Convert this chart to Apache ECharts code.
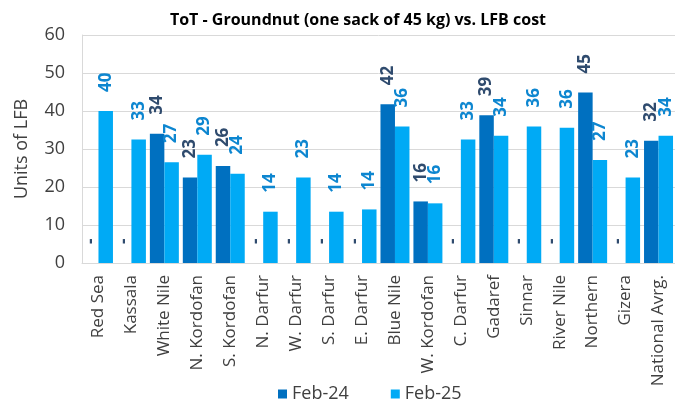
<!DOCTYPE html>
<html>
<head>
    <meta charset="utf-8" />
    <title>ToT - Groundnut</title>
    <script src="https://cdn.jsdelivr.net/npm/echarts@6/dist/echarts.min.js"></script>
    <style>
        html, body { margin: 0; padding: 0; background: #fff; }
        #chart { width: 675px; height: 408px; }
    </style>
</head>
<body>
    <div id="chart"></div>
    <script type="text/javascript">
        // states (x axis)
        var states = ['Red Sea', 'Kassala', 'White Nile', 'N. Kordofan', 'S. Kordofan', 'N. Darfur', 'W. Darfur',
            'S. Darfur', 'E. Darfur', 'Blue Nile', 'W. Kordofan', 'C. Darfur', 'Gadaref', 'Sinnar',
            'River Nile', 'Northern', 'Gizera', 'National Avrg.'];
        // units of LFB, 0 = no data (shown as "-")
        var feb24 = [0, 0, 34, 22.5, 25.5, 0, 0, 0, 0, 41.8, 16.2, 0, 38.9, 0, 0, 44.9, 0, 32.2];
        var feb25 = [40, 32.5, 26.5, 28.5, 23.5, 13.5, 22.5, 13.5, 14.1, 35.9, 15.7, 32.5, 33.5, 35.9, 35.6, 27.1, 22.5, 33.5];
        var yTicks = [0, 10, 20, 30, 40, 50, 60];

        var font = 'Open Sans';

        function labelOpt(color) {
            return {
                show: true,
                position: 'top',
                rotate: 90,
                align: 'left',
                verticalAlign: 'middle',
                distance: 19,
                color: color,
                fontFamily: font,
                fontSize: 17,
                fontWeight: 'bold',
                formatter: function (p) {
                    return p.value === 0 ? '-' : Math.round(p.value);
                }
            };
        }

        var myChart = echarts.init(document.getElementById('chart'));

        var option = {
            animation: false,
            title: {
                text: 'ToT - Groundnut (one sack of 45 kg) vs. LFB cost',
                left: 353,
                textAlign: 'center',
                top: 7,
                textStyle: { fontFamily: font, fontSize: 16, fontWeight: 'bold', color: '#000' }
            },
            legend: {
                bottom: 0,
                left: 273,
                itemWidth: 9,
                itemHeight: 9,
                itemGap: 42,
                icon: 'rect',
                textStyle: { fontFamily: font, fontSize: 18, color: '#404040' },
                data: ['Feb-24', 'Feb-25']
            },
            grid: {
                left: 82,
                right: 0,
                top: 35,
                bottom: 145
            },
            xAxis: {
                type: 'category',
                data: states,
                axisLine: { lineStyle: { color: '#d9d9d9' } },
                axisTick: { show: false },
                axisLabel: {
                    interval: 0,
                    rotate: 90,
                    margin: 12,
                    fontFamily: font,
                    fontSize: 17,
                    color: '#404040'
                }
            },
            yAxis: {
                type: 'value',
                min: yTicks[0],
                max: yTicks[yTicks.length - 1],
                interval: 10,
                name: 'Units of LFB',
                nameLocation: 'middle',
                nameGap: 51,
                nameTextStyle: { fontFamily: font, fontSize: 18, color: '#404040' },
                axisLine: { show: true, lineStyle: { color: '#d9d9d9' } },
                splitLine: { lineStyle: { color: '#d9d9d9' } },
                axisLabel: {
                    margin: 17,
                    fontFamily: font,
                    fontSize: 18,
                    color: '#404040'
                }
            },
            series: [
                {
                    name: 'Feb-24',
                    type: 'bar',
                    barGap: '0%',
                    barCategoryGap: '12%',
                    itemStyle: { color: '#0070C0' },
                    label: labelOpt('#2F4B6E'),
                    data: feb24
                },
                {
                    name: 'Feb-25',
                    type: 'bar',
                    itemStyle: { color: '#00AAF5' },
                    label: labelOpt('#0D86D0'),
                    data: feb25
                }
            ]
        };
        myChart.setOption(option);
    </script>
</body>
</html>
